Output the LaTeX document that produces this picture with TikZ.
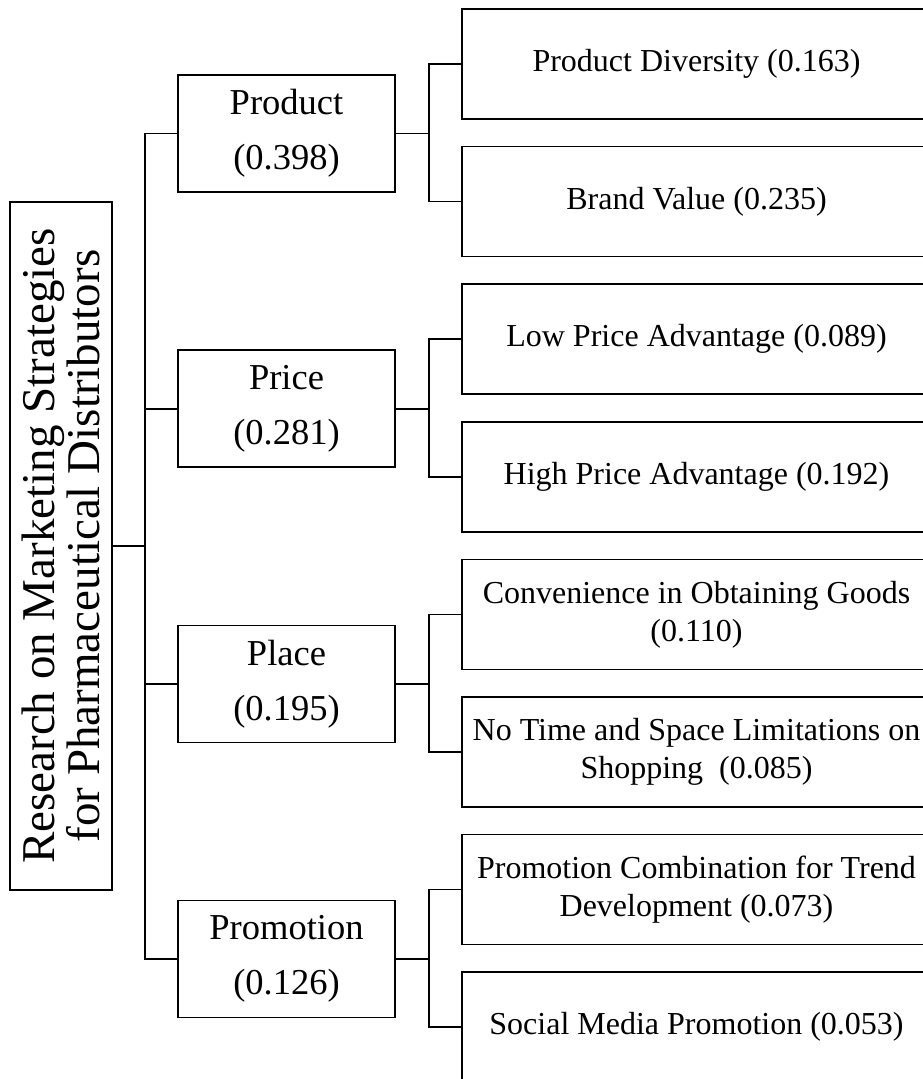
\documentclass[tikz,border=0pt]{standalone}
\usepackage{fontspec}
\setmainfont{Liberation Serif}
\usetikzlibrary{positioning}

\tikzset{
  box/.style={draw, align=center, inner sep=0pt},
  rootbox/.style={box, rotate=90, minimum width=688pt, minimum height=102.5pt, font=\fontsize{47}{45}\selectfont},
  midbox/.style={box, minimum width=217pt, minimum height=117pt, font=\fontsize{36.5}{55}\selectfont},
  leafbox/.style={box, minimum width=469pt, minimum height=110pt, font=\fontsize{32}{38}\selectfont}
}

\begin{document}
\begin{tikzpicture}[x=1pt, y=-1pt, line width=1.7pt, node distance=137.6pt]
\clip (0,0) rectangle (923,1079);
% root
\node (root) [rootbox] at (61,546) {Research on Marketing Strategies\\for Pharmaceutical Distributors};
% criteria
\node (product) [midbox] at (286.5,133.5) {Product\\(0.398)};
\node (price) [midbox, below of=product, yshift=-137.6pt] {Price\\(0.281)};
\node (place) [midbox, below of=price, yshift=-137.6pt] {Place\\(0.195)};
\node (promotion) [midbox, below of=place, yshift=-137.6pt] {Promotion\\(0.126)};
% sub-criteria
\node (diversity) [leafbox] at (696.5,64) {Product Diversity (0.163)};
\node (brand) [leafbox, below of=diversity] {Brand Value (0.235)};
\node (lowprice) [leafbox, below of=brand] {Low Price Advantage (0.089)};
\node (highprice) [leafbox, below of=lowprice] {High Price Advantage (0.192)};
\node (convenience) [leafbox, below of=highprice] {Convenience in Obtaining Goods\\(0.110)};
\node (notime) [leafbox, below of=convenience] {No Time and Space Limitations on\\Shopping~ (0.085)};
\node (combination) [leafbox, below of=notime] {Promotion Combination for Trend\\Development (0.073)};
\node (social) [leafbox, below of=combination] {Social Media Promotion (0.053)};
% forks
\coordinate (trunk) at (145,546);
\coordinate [right=33pt of product.east] (fproduct);
\coordinate [right=33pt of price.east] (fprice);
\coordinate [right=33pt of place.east] (fplace);
\coordinate [right=33pt of promotion.east] (fpromotion);
\draw (root.south) -- (trunk);
\draw (product.west) -| (trunk);
\draw (promotion.west) -| (trunk);
\draw (price.west) -- (price.west -| trunk);
\draw (place.west) -- (place.west -| trunk);
\draw (product.east) -- (fproduct);
\draw (price.east) -- (fprice);
\draw (place.east) -- (fplace);
\draw (promotion.east) -- (fpromotion);
\draw (diversity.west) -| (fproduct) |- (brand.west);
\draw (lowprice.west) -| (fprice) |- (highprice.west);
\draw (convenience.west) -| (fplace) |- (notime.west);
\draw (combination.west) -| (fpromotion) |- (social.west);
\end{tikzpicture}
\end{document}
